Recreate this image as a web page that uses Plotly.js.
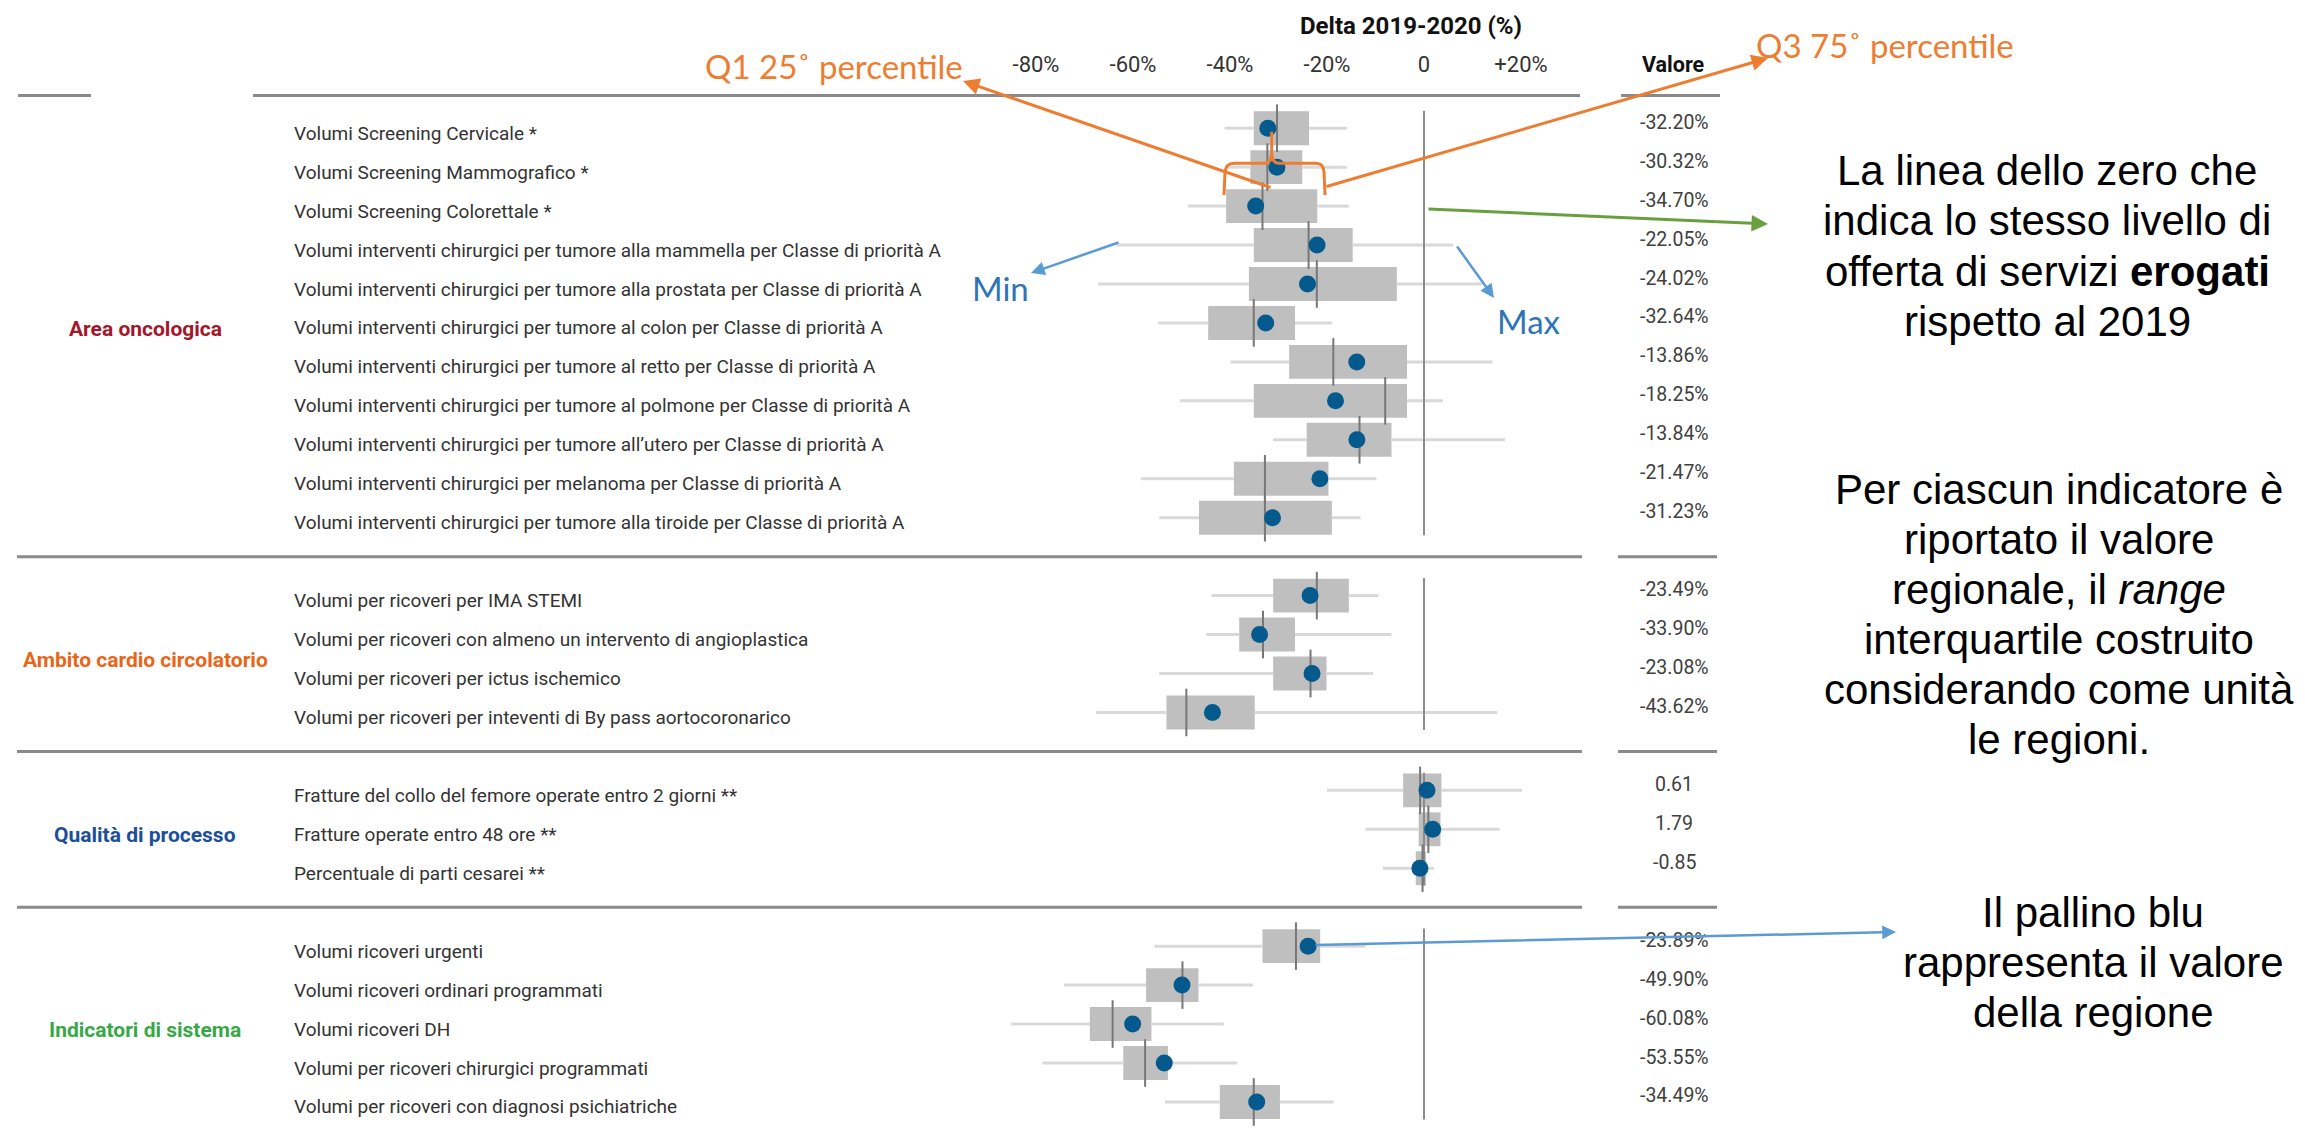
<!DOCTYPE html>
<html>
<head>
<meta charset="utf-8">
<script src="https://cdn.plot.ly/plotly-3.0.1.min.js"></script>
<style>
html,body{margin:0;padding:0;background:#ffffff;}
#chart{width:2305px;height:1141px;}
</style>
</head>
<body>
<div id="chart"></div>
<script>
// ---------------- DATA ----------------
const groupNames = ['Area oncologica', 'Ambito cardio circolatorio', 'Qualità di processo', 'Indicatori di sistema'];
const groupSizes = [11, 4, 3, 5];

const indicators = [
  'Volumi Screening Cervicale *',
  'Volumi Screening Mammografico *',
  'Volumi Screening Colorettale *',
  'Volumi interventi chirurgici per tumore alla mammella per Classe di priorità A',
  'Volumi interventi chirurgici per tumore alla prostata per Classe di priorità A',
  'Volumi interventi chirurgici per tumore al colon per Classe di priorità A',
  'Volumi interventi chirurgici per tumore al retto per Classe di priorità A',
  'Volumi interventi chirurgici per tumore al polmone per Classe di priorità A',
  'Volumi interventi chirurgici per tumore all\u2019utero per Classe di priorità A',
  'Volumi interventi chirurgici per melanoma per Classe di priorità A',
  'Volumi interventi chirurgici per tumore alla tiroide per Classe di priorità A',
  'Volumi per ricoveri per IMA STEMI',
  'Volumi per ricoveri con almeno un intervento di angioplastica',
  'Volumi per ricoveri per ictus ischemico',
  'Volumi per ricoveri per inteventi di By pass aortocoronarico',
  'Fratture del collo del femore operate entro 2 giorni **',
  'Fratture operate entro 48 ore **',
  'Percentuale di parti cesarei **',
  'Volumi ricoveri urgenti',
  'Volumi ricoveri ordinari programmati',
  'Volumi ricoveri DH',
  'Volumi per ricoveri chirurgici programmati',
  'Volumi per ricoveri con diagnosi psichiatriche'
];

const whiskerLow  = [-41.1, -41.0, -48.7, -63.4, -67.2, -54.8, -39.9, -50.3, -31.1, -58.4, -54.6,
                     -43.8, -44.9, -54.6, -67.6,
                     -20.0, -12.1, -8.5,
                     -55.6, -74.2, -85.1, -78.7, -53.4];
const q1          = [-35.1, -35.8, -40.8, -35.1, -36.1, -44.5, -27.8, -35.1, -24.2, -39.2, -46.4,
                     -31.1, -38.1, -31.1, -53.1,
                     -4.3, -1.1, -1.7,
                     -33.3, -57.3, -68.9, -62.0, -42.1];
const median      = [-30.3, -32.3, -33.3, -23.8, -22.1, -35.1, -18.7, -8.0, -13.3, -32.8, -32.8,
                     -22.1, -33.2, -23.4, -49.0,
                     -0.8, 0.9, -0.3,
                     -26.4, -49.8, -64.2, -57.5, -35.1];
const q3          = [-23.7, -25.1, -22.0, -14.7, -5.6, -26.6, -3.5, -3.5, -6.7, -19.7, -19.0,
                     -15.5, -26.6, -20.1, -34.9,
                     3.6, 3.4, 0.4,
                     -21.4, -46.5, -56.2, -52.8, -29.7];
const whiskerHigh = [-15.9, -15.9, -15.5, 6.0, 11.9, -19.0, 14.1, 3.9, 16.7, -9.8, -13.1,
                     -9.4, -6.7, -10.5, 15.1,
                     20.2, 15.6, 2.1,
                     -12.1, -35.3, -41.3, -38.5, -18.6];
const regionValue = [-32.20, -30.32, -34.70, -22.05, -24.02, -32.64, -13.86, -18.25, -13.84, -21.47, -31.23,
                     -23.49, -33.90, -23.08, -43.62,
                     0.61, 1.79, -0.85,
                     -23.89, -49.90, -60.08, -53.55, -34.49];
const valueLabels = ['-32.20%', '-30.32%', '-34.70%', '-22.05%', '-24.02%', '-32.64%', '-13.86%', '-18.25%', '-13.84%', '-21.47%', '-31.23%',
                     '-23.49%', '-33.90%', '-23.08%', '-43.62%',
                     '0.61', '1.79', '-0.85',
                     '-23.89%', '-49.90%', '-60.08%', '-53.55%', '-34.49%'];

const tickValues = [-80, -60, -40, -20, 0, 20];
const tickLabels = ['-80%', '-60%', '-40%', '-20%', '0', '+20%'];

// ---------------- LAYOUT GEOMETRY ----------------
const W = 2305, H = 1141, T = 80;
const ZERO_PX = 1424, PX_PER_PCT = 4.85;
const ROW0_PX = 128.2, ROW_PX = 38.95;
const PX = x => x / W;
const PY = y => 1 - (y - T) / (H - T);

const groupColors = ['#A3162B', '#E8661A', '#1B4F9C', '#37A847'];

// slot positions: one empty slot between groups
const pos = [], groupMid = [], groupSpan = [], gapSlots = [];
let k = 0;
groupSizes.forEach(n => {
  const start = k;
  for (let i = 0; i < n; i++) pos.push(k++);
  groupSpan.push([start, k - 1]);
  groupMid.push((start + k - 1) / 2);
  gapSlots.push(k);
  k++;
});

// ---------------- TRACES ----------------
const whiskX = [], whiskY = [];
pos.forEach((p, i) => {
  whiskX.push(whiskerLow[i], q1[i], null, q3[i], whiskerHigh[i], null);
  whiskY.push(p, p, null, p, p, null);
});
const zeroX = [], zeroY = [];
groupSpan.forEach(s => {
  zeroX.push(0, 0, null);
  zeroY.push(s[0] - 0.45, s[1] + 0.45, null);
});

const traces = [
  {
    type: 'bar', orientation: 'h',
    y: pos, base: q1, x: q3.map((v, i) => v - q1[i]),
    width: 0.87,
    marker: {color: '#BFBFBF', line: {width: 0}},
    hoverinfo: 'skip'
  },
  {
    type: 'scatter', mode: 'lines', x: whiskX, y: whiskY,
    line: {color: '#D9D9D9', width: 3}, hoverinfo: 'skip', connectgaps: false
  },
  {
    type: 'scatter', mode: 'lines', x: zeroX, y: zeroY,
    line: {color: '#8C8C8C', width: 2}, hoverinfo: 'skip', connectgaps: false
  },
  {
    type: 'scatter', mode: 'markers', x: median, y: pos,
    marker: {symbol: 'line-ns-open', size: 34, color: '#777777', line: {color: '#777777', width: 2}},
    hoverinfo: 'skip'
  },
  {
    type: 'scatter', mode: 'markers', x: regionValue, y: pos,
    marker: {symbol: 'circle', size: 17, color: '#045A8D', line: {width: 0}},
    hoverinfo: 'skip'
  }
];

// ---------------- ANNOTATIONS ----------------
const ann = [];
const rowFont = {family: 'Roboto, sans-serif', size: 19, color: '#333333'};
indicators.forEach((t, i) => {
  ann.push({xref: 'paper', yref: 'y', x: PX(292), y: pos[i], text: t, showarrow: false,
            xanchor: 'left', yanchor: 'middle', yshift: -5, font: rowFont});
  ann.push({xref: 'paper', yref: 'y', x: PX(1674), y: pos[i], text: valueLabels[i], showarrow: false,
            xanchor: 'center', yanchor: 'middle', yshift: 6,
            font: {family: 'Roboto, sans-serif', size: 19.5, color: '#404040'}});
});
groupNames.forEach((g, i) => {
  ann.push({xref: 'paper', yref: 'y', x: PX(145), y: groupMid[i], text: '<b>' + g + '</b>', showarrow: false,
            xanchor: 'center', yanchor: 'middle', yshift: -6,
            font: {family: 'Roboto, sans-serif', size: 21, color: groupColors[i]}});
});
ann.push({xref: 'paper', yref: 'paper', x: PX(1411), y: PY(26), text: '<b>Delta 2019-2020 (%)</b>', showarrow: false,
          xanchor: 'center', yanchor: 'middle', font: {family: 'Roboto, sans-serif', size: 24, color: '#111111'}});
ann.push({xref: 'paper', yref: 'paper', x: PX(1673), y: PY(65), text: '<b>Valore</b>', showarrow: false,
          xanchor: 'center', yanchor: 'middle', font: {family: 'Roboto, sans-serif', size: 21.5, color: '#111111'}});

// overlay explanation labels
const orange = '#ED7D31', green = '#6A9F3F', lblue = '#5B9BD5', dblue = '#2E75B6';
const calloutFont = (c, s) => ({family: 'Lato, sans-serif', size: s, color: c});
ann.push({xref: 'paper', yref: 'paper', x: PX(834), y: PY(66), text: 'Q1 25\u02DA percentile', showarrow: false,
          xanchor: 'center', yanchor: 'middle', font: calloutFont(orange, 33)});
ann.push({xref: 'paper', yref: 'paper', x: PX(1885), y: PY(45), text: 'Q3 75\u02DA percentile', showarrow: false,
          xanchor: 'center', yanchor: 'middle', font: calloutFont(orange, 33)});
ann.push({xref: 'paper', yref: 'paper', x: PX(1000), y: PY(288), text: 'Min', showarrow: false,
          xanchor: 'center', yanchor: 'middle', font: calloutFont(dblue, 33)});
ann.push({xref: 'paper', yref: 'paper', x: PX(1529), y: PY(321), text: 'Max', showarrow: false,
          xanchor: 'center', yanchor: 'middle', font: calloutFont(dblue, 33)});

// arrows: head at (hx,hy) px, tail at (tx,ty) px
const arrow = (hx, hy, tx, ty, color, w) => ({
  xref: 'paper', yref: 'paper', x: PX(hx), y: PY(hy), ax: tx - hx, ay: ty - hy,
  axref: 'pixel', ayref: 'pixel', text: '', showarrow: true,
  arrowhead: 2, arrowsize: 1.1, arrowwidth: w, arrowcolor: color
});
ann.push(arrow(963, 81, 1272, 188, orange, 3));
ann.push(arrow(1768, 58, 1325, 187, orange, 3));
ann.push(arrow(1768, 224, 1427, 209, green, 3));
ann.push(arrow(1031, 273, 1120, 242, lblue, 2.5));
ann.push(arrow(1494, 298, 1456, 245, lblue, 2.5));
ann.push(arrow(1896, 932, 1314, 945, lblue, 2.5));

// explanation text blocks
const textFont = {family: 'Liberation Sans, Arial, sans-serif', size: 42, color: '#000000'};
const blocks = [
  {x: 2047, y0: 170, dy: 50.5, lines: ['La linea dello zero che', 'indica lo stesso livello di', 'offerta di servizi <b>erogati</b>', 'rispetto al 2019']},
  {x: 2059, y0: 489, dy: 50, lines: ['Per ciascun indicatore è', 'riportato il valore', 'regionale, il <i>range</i>', 'interquartile costruito', 'considerando come unità', 'le regioni.']},
  {x: 2093, y0: 912, dy: 50, lines: ['Il pallino blu', 'rappresenta il valore', 'della regione']}
];
blocks.forEach(b => b.lines.forEach((l, i) => {
  ann.push({xref: 'paper', yref: 'paper', x: PX(b.x), y: PY(b.y0 + i * b.dy), text: l, showarrow: false,
            xanchor: 'center', yanchor: 'middle', font: textFont});
}));

// ---------------- SHAPES ----------------
const shapes = [];
const hline = (x0, x1, yk) => ({type: 'line', xref: 'paper', yref: 'y', x0: PX(x0), x1: PX(x1), y0: yk, y1: yk,
                                line: {color: '#8A8A8A', width: 3}, layer: 'below'});
const topK = (95.5 - ROW0_PX) / ROW_PX;
shapes.push(hline(18, 91, topK), hline(253, 1580, topK), hline(1621, 1720, topK));
gapSlots.slice(0, -1).forEach(g => {
  shapes.push(hline(17, 1582, g), hline(1618, 1717, g));
});
// orange brace
const bracePts = (pts) => pts.map(p => typeof p === 'string' ? p : (PX(p[0]).toFixed(5) + ',' + PY(p[1]).toFixed(5))).join(' ');
const bracePath = bracePts(['M', [1224, 195], 'L', [1225, 172], 'Q', [1226, 163.3], [1234, 163.3], 'L', [1264, 163.3],
  'Q', [1271.7, 163.3], [1271.7, 152], 'L', [1271.7, 131.7], 'M', [1271.7, 152], 'Q', [1271.7, 163.3], [1279, 163.3],
  'L', [1316, 163.3], 'Q', [1323.5, 163.3], [1324, 172], 'L', [1325, 195]]);
shapes.push({type: 'path', xref: 'paper', yref: 'paper', path: bracePath, line: {color: orange, width: 3}, layer: 'above'});

const layout = {
  width: W, height: H,
  margin: {l: 0, r: 0, t: T, b: 0, pad: 0},
  paper_bgcolor: '#ffffff', plot_bgcolor: '#ffffff',
  showlegend: false,
  xaxis: {
    range: [-ZERO_PX / PX_PER_PCT, (W - ZERO_PX) / PX_PER_PCT],
    side: 'top', tickvals: tickValues, ticktext: tickLabels, ticks: '',
    ticklabelstandoff: 3,
    showgrid: false, zeroline: false, showline: false, fixedrange: true,
    tickfont: {family: 'Roboto, sans-serif', size: 22, color: '#333333'}
  },
  yaxis: {
    range: [(H - ROW0_PX) / ROW_PX, (T - ROW0_PX) / ROW_PX],
    showgrid: false, zeroline: false, showline: false, showticklabels: false, ticks: '', fixedrange: true
  },
  annotations: ann,
  shapes: shapes
};

Plotly.newPlot('chart', traces, layout, {displayModeBar: false, staticPlot: true});
</script>
</body>
</html>
